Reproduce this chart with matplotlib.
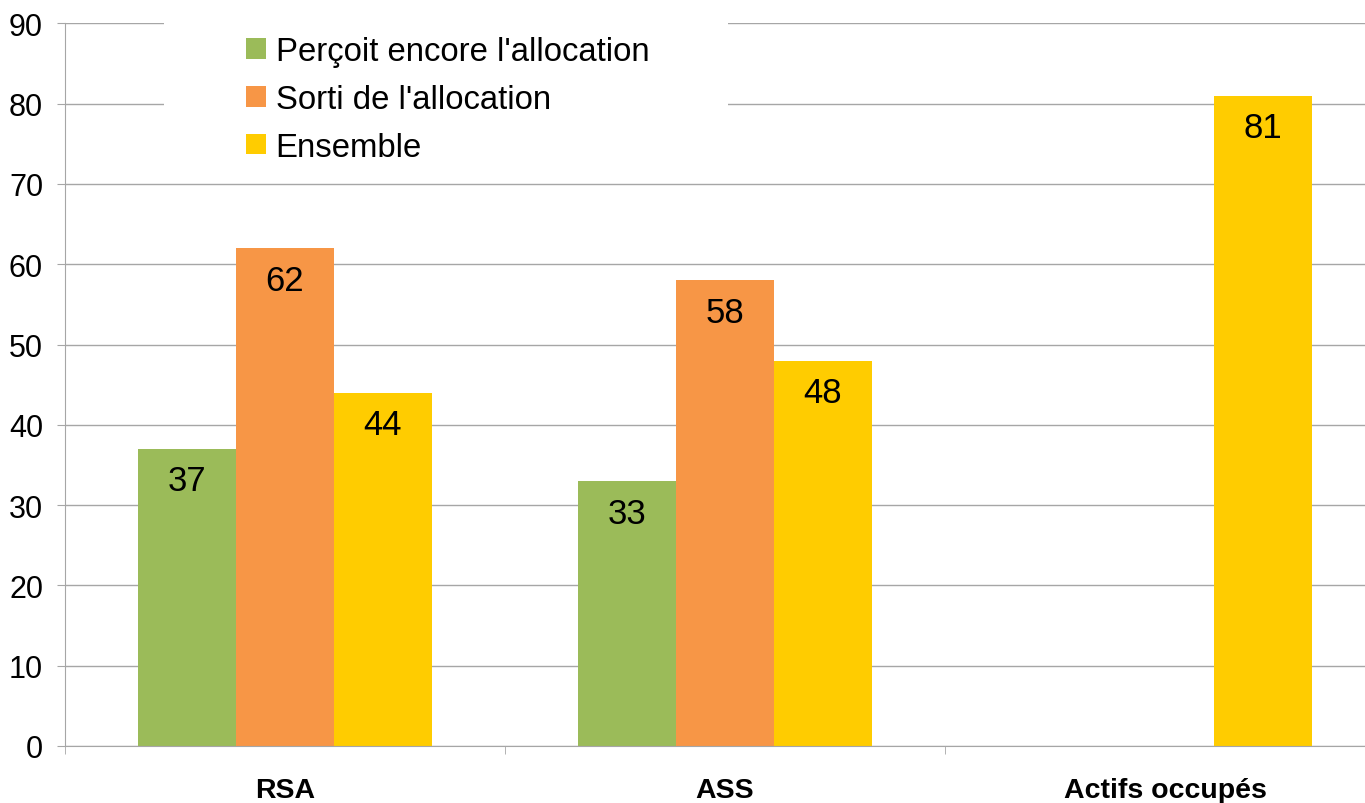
import numpy as np
import matplotlib
matplotlib.use("Agg")
import matplotlib.pyplot as plt
from matplotlib.patches import Rectangle

plt.rcParams['font.family'] = ['Liberation Sans', 'DejaVu Sans']

categories = ["RSA", "ASS", "Actifs occupés"]
series_names = ["Perçoit encore l'allocation", "Sorti de l'allocation", "Ensemble"]
percoit = [37, 33, np.nan]
sorti = [62, 58, np.nan]
ensemble = [44, 48, 81]
colors = ["#9BBB59", "#F79646", "#FFCC00"]
yticks = [0, 10, 20, 30, 40, 50, 60, 70, 80, 90]

grey = "#a6a6a6"

fig = plt.figure(figsize=(13.65, 8.04), dpi=100)
ax = fig.add_axes([65 / 1365, 1 - 747 / 804, 1320 / 1365, (747 - 24.3) / 804])

x = np.arange(len(categories))
w = 0.2227
for i, (vals, name, col) in enumerate(zip([percoit, sorti, ensemble], series_names, colors)):
    pos = x + (i - 1) * w
    ax.bar(pos, vals, width=w, color=col, label=name, zorder=2)
    for p, v in zip(pos, vals):
        if np.isnan(v):
            continue
        ax.annotate(f"{v:g}", (p, v), xytext=(0, -32), textcoords="offset pixels",
                    ha="center", va="center", fontsize=25, zorder=3)

ax.set_xlim(-0.5, 2.5)
ax.set_ylim(0, 90)
ax.set_yticks(yticks)
ax.set_axisbelow(True)
ax.yaxis.grid(True, color=grey, linewidth=1.0)
ax.set_xticks(x)
ax.set_xticklabels(categories, fontsize=20.5, fontweight="bold")
ax.set_xticks([-0.5, 0.5, 1.5, 2.5], minor=True)
ax.tick_params(axis="x", which="major", length=0, pad=22.5)
ax.tick_params(axis="x", which="minor", length=5.8, color=grey)
ax.tick_params(axis="y", length=5.8, color=grey, labelsize=22, pad=10)

for s in ["top", "right"]:
    ax.spines[s].set_visible(False)
for s in ["left", "bottom"]:
    ax.spines[s].set_color(grey)

# white box behind the legend hides the gridlines there
ax.add_patch(Rectangle((99 / 1320, 0.798), (728 - 164) / 1320, 0.22,
                       transform=ax.transAxes, facecolor="white", edgecolor="none",
                       zorder=0.8, clip_on=False))

ax.legend(loc="upper left", bbox_to_anchor=(246 / 1365, 1 - 37 / 804),
          bbox_transform=fig.transFigure, frameon=False, fontsize=23.7,
          borderpad=0, borderaxespad=0, handlelength=0.6, handleheight=0.6,
          handletextpad=0.3, labelspacing=0.51)

fig.savefig("out.png", dpi=100)
